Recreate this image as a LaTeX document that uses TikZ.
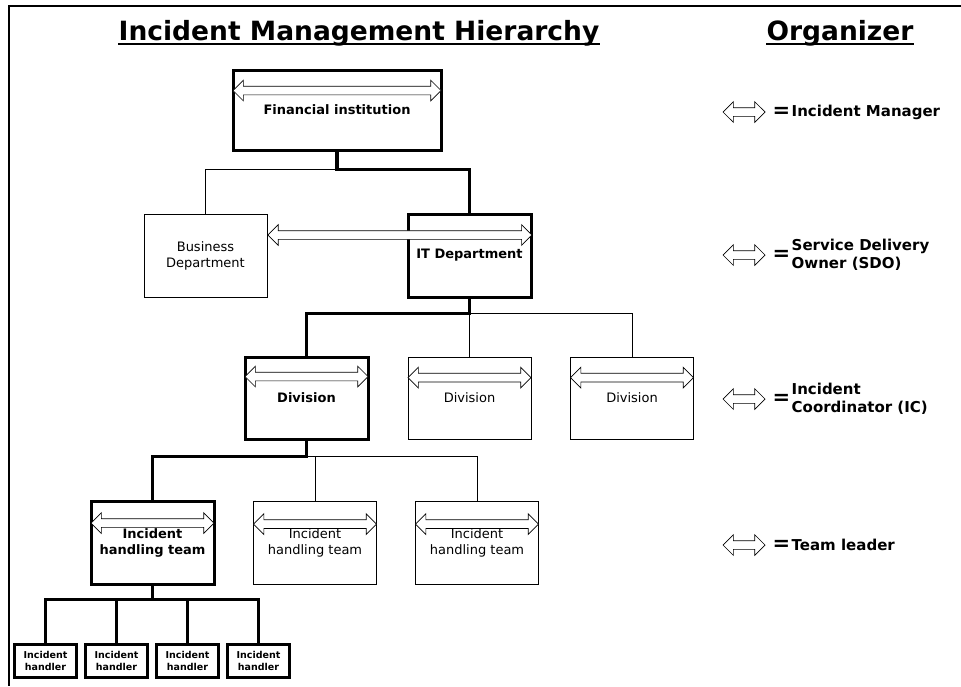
\documentclass[tikz,border=0pt]{standalone}
\usepackage{fontspec}
\setmainfont{DejaVu Sans}
\usetikzlibrary{shapes.arrows,positioning,calc}

\tikzset{
  unit/.style={rectangle,draw,line width=0.8pt,align=center,inner sep=0pt,
    font=\fontsize{13}{16}\selectfont},
  lead/.style={unit,line width=3pt,font=\fontsize{13}{16}\selectfont\bfseries},
  handler/.style={lead,minimum width=62pt,minimum height=33pt,
    font=\fontsize{9.5}{12}\selectfont\bfseries},
  link/.style={line width=0.8pt},
  chain/.style={line width=3.3pt},
  hollow/.style={double arrow,draw,fill=white,line width=0.7pt,inner sep=0pt,
    inner ysep=4pt,minimum width=20pt,double arrow head extend=6pt},
  key/.style={inner sep=0pt,align=left,font=\fontsize{15}{18}\selectfont\bfseries},
  eqsign/.style={inner sep=0pt,font=\fontsize{21}{21}\selectfont\bfseries},
  title/.style={inner sep=0pt,font=\fontsize{26.5}{30}\selectfont\bfseries}
}

\begin{document}
\begin{tikzpicture}[x=1pt,y=-1pt]
\useasboundingbox (0,0) rectangle (961,686);
\draw[line width=2.5pt] (961,6) -- (9,6) -- (9,686);

\node[title,anchor=base] (hier) at (359,40) {Incident Management Hierarchy};
\node[title,anchor=base] (orgz) at (840,40) {Organizer};
\draw[line width=2pt] ([yshift=-4pt]hier.base west) -- ([yshift=-4pt]hier.base east);
\draw[line width=2pt] ([yshift=-4pt]orgz.base west) -- ([yshift=-4pt]orgz.base east);

\node[lead,minimum width=208pt,minimum height=80pt] (fi) at (337,110) {Financial institution};
\node[unit,minimum width=123pt,minimum height=83pt] (bd) at (205.5,255.5) {Business\\Department};
\node[lead,minimum width=123pt,minimum height=83pt] (it) at (469.5,255.5) {IT Department};
\node[lead,minimum width=123pt,minimum height=82pt] (dv1) at (306.5,398) {Division};
\node[unit,minimum width=123pt,minimum height=82pt] (dv2) at (469.5,398) {Division};
\node[unit,minimum width=123pt,minimum height=82pt] (dv3) at (632,398) {Division};
\node[lead,minimum width=123pt,minimum height=83pt] (tm1) at (152.5,542.5) {Incident\\handling team};
\node[unit,minimum width=123pt,minimum height=83pt] (tm2) at (315,542.5) {Incident\\handling team};
\node[unit,minimum width=123pt,minimum height=83pt] (tm3) at (477,542.5) {Incident\\handling team};
\node[handler] (hd1) at (45.5,660.5) {Incident\\handler};
\node[handler] (hd2) at (116.5,660.5) {Incident\\handler};
\node[handler] (hd3) at (187.5,660.5) {Incident\\handler};
\node[handler] (hd4) at (258.5,660.5) {Incident\\handler};

\coordinate (j1) at ([yshift=-18pt]fi.south);
\coordinate (j2) at ([yshift=-15pt]it.south);
\coordinate (j3) at ([yshift=-16pt]dv1.south);
\coordinate (j4) at ([yshift=-14pt]tm1.south);
\draw[chain] (fi.south) -- (j1) -| (it.north);
\draw[link] (j1) -| (bd.north);
\draw[chain] (it.south) -- (j2) -| (dv1.north);
\draw[link] (j2) -- (dv2.north) (j2) -| (dv3.north);
\draw[chain] (dv1.south) -- (j3) -| (tm1.north);
\draw[link] (j3) -| (tm2.north) (j3) -| (tm3.north);
\draw[chain] (tm1.south) -- (j4);
\foreach \i in {1,...,4}
  \draw[chain] (j4) -| (hd\i.north);

\node[hollow,minimum height=208pt] (a1) at ([yshift=-22pt]fi.north) {};
\node[hollow,minimum height=264pt] (a2) at ($(bd.east)!.5!(it.east)+(0,-20.5)$) {};
\foreach \d in {dv1,dv2,dv3}
  \node[hollow,minimum height=123pt] (a-\d) at ([yshift=-21pt]\d.north) {};
\foreach \t in {tm1,tm2,tm3}
  \node[hollow,minimum height=123pt] (a-\t) at ([yshift=-23.5pt]\t.north) {};

\node[hollow,minimum height=42pt] (k1) at (744,112) {};
\node[eqsign,right=7pt of k1] (e1) {=};
\node[key,right=1pt of e1] (t1) {Incident Manager};
\node[hollow,minimum height=42pt] (k2) at (744,255) {};
\node[eqsign,right=7pt of k2] (e2) {=};
\node[key,right=1pt of e2] (t2) {Service Delivery\\Owner (SDO)};
\node[hollow,minimum height=42pt] (k3) at (744,399) {};
\node[eqsign,right=7pt of k3] (e3) {=};
\node[key,right=1pt of e3] (t3) {Incident\\Coordinator (IC)};
\node[hollow,minimum height=42pt] (k4) at (744,545) {};
\node[eqsign,right=7pt of k4] (e4) {=};
\node[key,right=1pt of e4] (t4) {Team leader};
\end{tikzpicture}
\end{document}
